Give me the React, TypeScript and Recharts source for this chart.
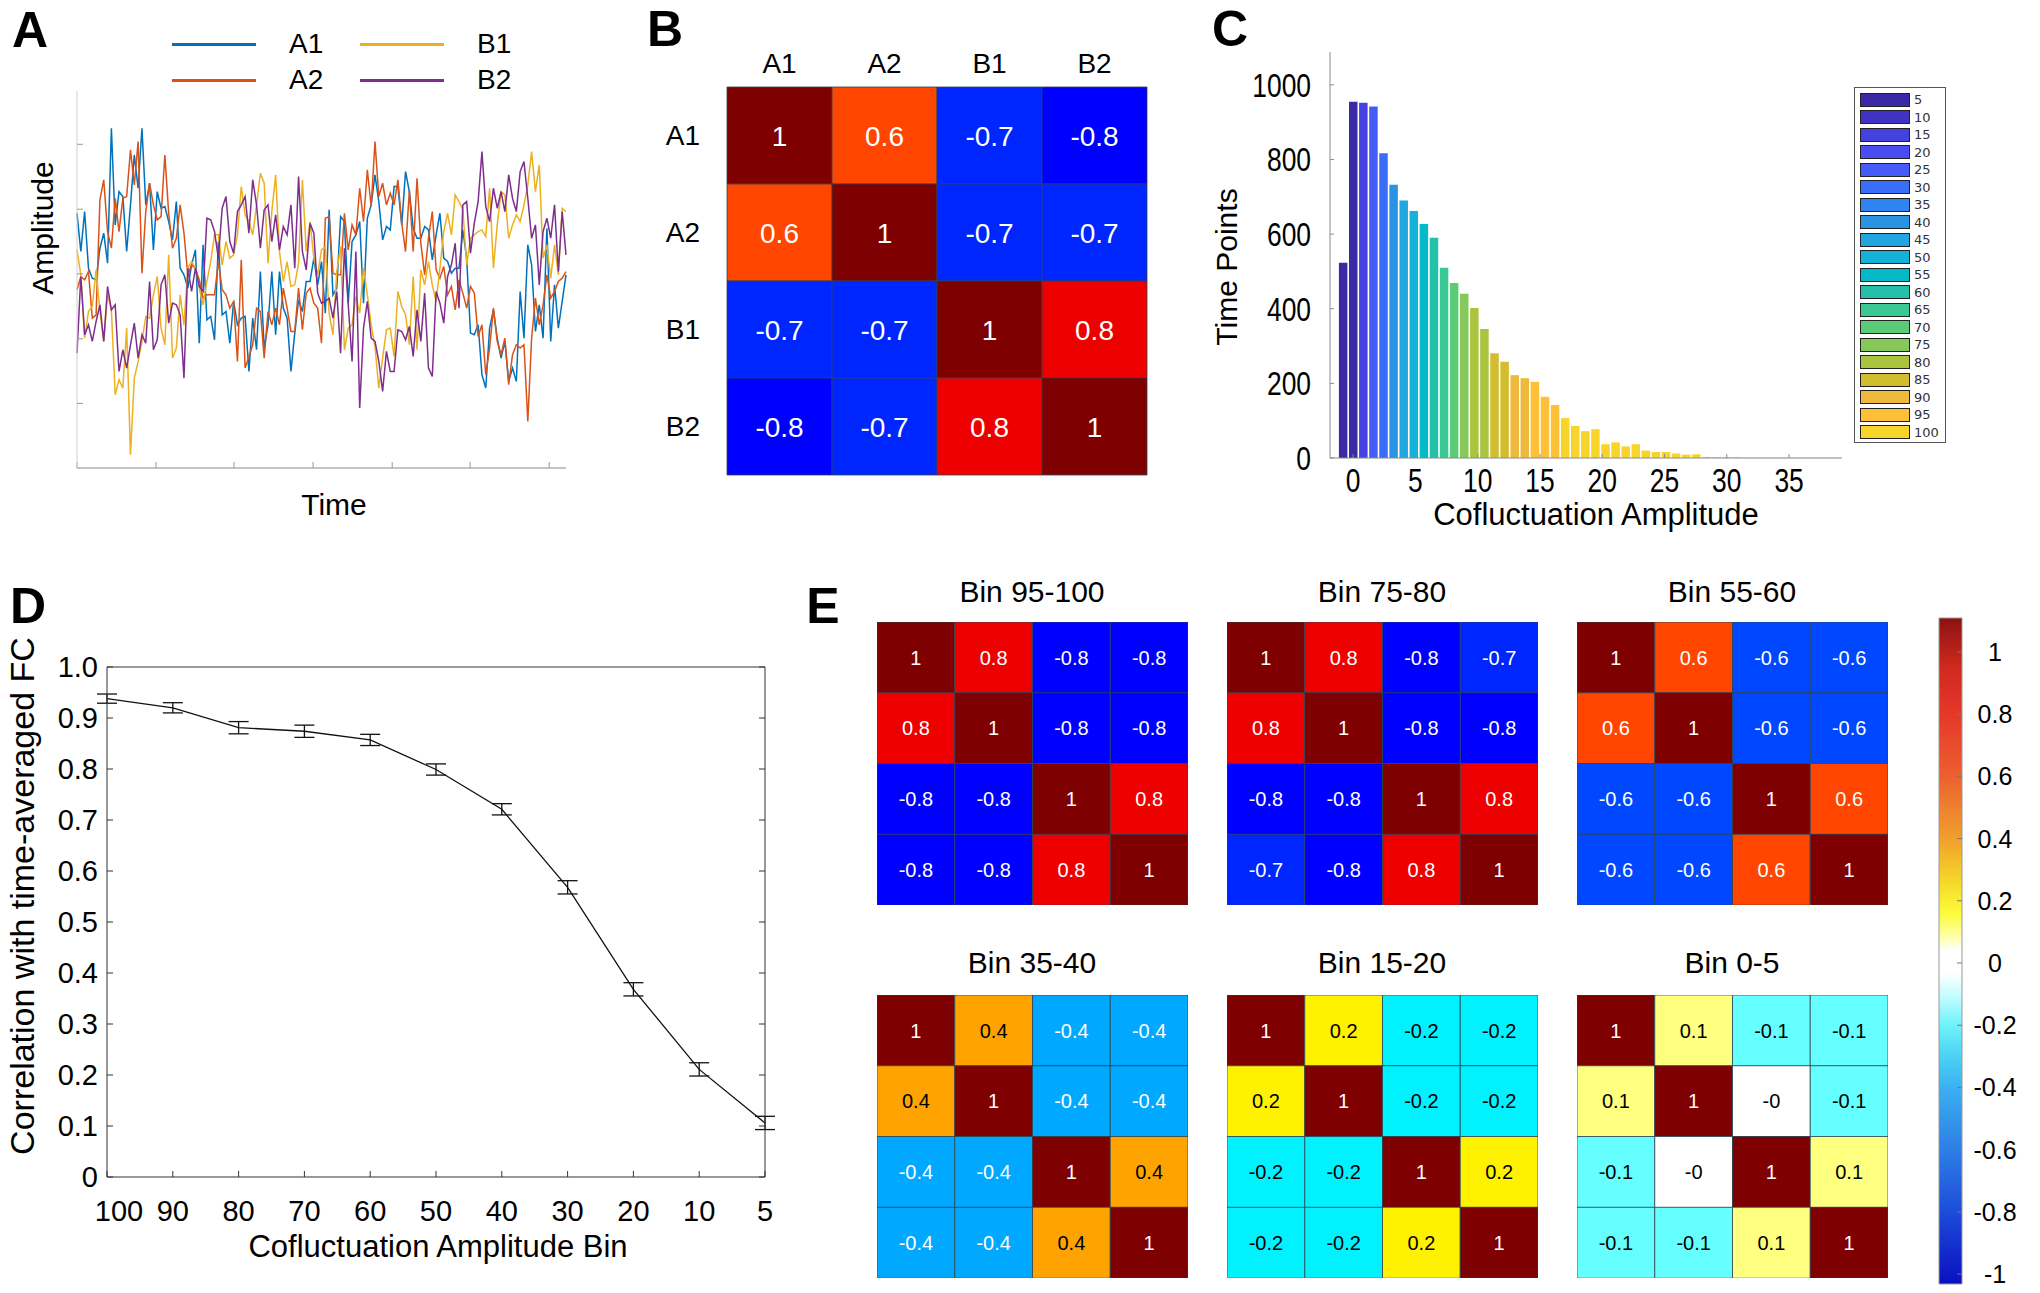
import React from 'react';
import {
  LineChart,
  Line,
  BarChart,
  Bar,
  Cell,
  LabelList,
  XAxis,
  YAxis,
  ErrorBar,
  Legend,
} from 'recharts';

const FONT = '"Liberation Sans", Arial, Helvetica, sans-serif';

// ---------- A: example regional time series (arbitrary amplitude units) ----------
const a1Values = [
  76.5, 65, 77, 60, 57, 56.5, 66, 70.5, 61.5, 102, 73, 83, 81.5, 65, 79, 94, 84, 102, 79, 85.5, 65.5, 83, 78, 78.5,
  74, 68.5, 80, 60, 58, 54, 61, 65.5, 37.5, 67, 44.5, 45.5, 38.5, 68, 46, 47, 37.5, 50, 43, 45, 45.5, 29, 45, 35.5,
  59, 36, 43, 59, 40, 59, 48, 45, 29, 40.5, 50.5, 47, 56, 56, 63, 55, 62, 46.5, 77.5, 52, 54, 75.5, 74, 49.5, 68, 70,
  74, 49.5, 75, 79, 88, 80, 68.5, 72.5, 71.5, 84.5, 84.5, 73, 89, 83, 72, 69, 69, 72.5, 71.5, 62.5, 70, 76.5, 63, 62,
  58.5, 60, 60, 71.5, 63, 40.5, 40, 43, 28, 24, 42, 47.5, 39, 33, 38, 26, 30, 26, 53, 39, 67, 61, 41, 49, 39, 72, 38,
  55, 42, 50, 58,
];
const a2Values = [
  53.5, 57.5, 56.5, 59, 45, 46, 80.5, 86.5, 71, 66, 81, 71, 81, 81.5, 95.5, 85, 98, 58.5, 77, 85.5, 79, 74.5, 75.5, 94,
  76.5, 66, 69, 79, 70.5, 58, 61, 60, 56.5, 51, 52, 52, 52, 62, 53.5, 52, 48, 50, 32, 62.5, 30, 33.5, 37, 48, 47, 33,
  47, 43, 48, 43, 54, 48, 41, 41, 54, 41.5, 52.5, 54, 49.5, 48, 37.5, 75, 75.5, 58.5, 58, 58, 76.5, 65.5, 73, 70, 84,
  74, 89.5, 78.5, 98, 81.5, 85.5, 79, 82.5, 79, 86.5, 73.5, 65, 83.5, 65, 87, 67.5, 58, 69, 77, 59.5, 57, 60.5, 52,
  54.5, 47.5, 56.5, 52.5, 48, 54.5, 52.5, 39.5, 43, 28, 36, 48, 38, 34, 39, 25, 34, 37, 36, 37, 14, 39, 51, 43, 49,
  58, 51, 53, 56, 57, 59,
];
const b1Values = [
  65.5, 58, 39, 47, 48.5, 59.5, 47, 38, 52, 47.5, 22, 26.5, 24, 42, 4, 27, 32, 38, 45.5, 45, 52, 57.5, 42, 37, 64, 33,
  36, 52, 43, 60, 62, 60, 54, 49, 56, 62, 70, 70, 61, 68, 63, 64, 70, 84.5, 76, 74, 70, 79, 88.5, 85.5, 61.5, 77, 88,
  65, 56, 62, 54.5, 55, 61.5, 86.5, 65, 74, 63, 58, 65.5, 66.5, 46.5, 40, 59, 66.5, 35.5, 42, 43, 51.5, 46.5, 60, 52,
  43, 36.5, 24, 33, 41.5, 42, 33.5, 53, 48.5, 46, 37, 57.5, 35.5, 59.5, 55, 62, 55, 50, 60, 71, 76.5, 70, 82, 80, 77.5,
  61, 69, 70, 71, 71.5, 69.5, 84, 60, 73, 83, 82, 69, 73, 76, 74, 79, 85, 95, 83, 91, 63, 67, 57, 67, 58, 78, 77,
];
const b2Values = [
  34.5, 57.5, 40, 43, 38, 44, 49, 38, 54.5, 47.5, 49, 29, 35.5, 30, 37, 43.5, 33, 40, 37.5, 56, 35.5, 38.5, 55, 58,
  43.5, 49.5, 49, 46, 27, 60, 53, 60, 54.5, 53, 75, 74.5, 71, 63, 78, 81.5, 68, 64.5, 77, 79, 81.5, 70.5, 86.5, 79, 66,
  77.5, 79, 68, 76, 65.5, 72.5, 70, 79, 60, 87.5, 65, 59.5, 73.5, 70.5, 52.5, 49.5, 50, 51, 45, 53, 34.5, 66, 49, 32,
  65, 18, 42, 50, 39, 38, 32, 23, 35, 29, 29, 41.5, 41, 38.5, 42.5, 33.5, 47.5, 38, 52.5, 30, 27.5, 53, 49.5, 43.5,
  57.5, 61, 67.5, 48, 79, 80, 64.5, 73.5, 80, 95, 78.5, 74, 84, 78, 83, 77, 88, 81, 77, 89, 92, 81, 69, 73, 55, 71, 75,
  69, 79, 59, 77, 64,
];
const seriesNames = ['A1', 'A2', 'B1', 'B2'];
const seriesColors: Record<string, string> = { A1: '#0072BD', A2: '#D95319', B1: '#EDB120', B2: '#7E2F8E' };
const timeTicks = [0, 20.7, 41.1, 61.8, 82.5, 102.9, 123.6];
const ampTicks = [19.4, 38.8, 58.3, 77.7, 97.2];

// ---------- B: time-averaged FC ----------
const nodeNames = ['A1', 'A2', 'B1', 'B2'];
const fcMatrix = [
  [1, 0.6, -0.7, -0.8],
  [0.6, 1, -0.7, -0.7],
  [-0.7, -0.7, 1, 0.8],
  [-0.8, -0.7, 0.8, 1],
];

// ---------- C: histogram of cofluctuation amplitude ----------
const ampBins = [
  -0.81, 0, 0.81, 1.62, 2.43, 3.24, 4.05, 4.86, 5.67, 6.48, 7.29, 8.1, 8.91, 9.72, 10.53, 11.34, 12.15, 12.96, 13.77,
  14.58, 15.39, 16.2, 17.01, 17.82, 18.63, 19.44, 20.25, 21.06, 21.87, 22.68, 23.49, 24.3, 25.11, 25.92, 26.73, 27.54,
  28.35, 29.16, 29.97, 30.78, 31.59, 32.4, 33.21, 34.02, 34.83, 35.64, 36.45, 37.26, 38.07, 38.88,
];
const timePoints = [
  523, 955, 952, 942, 817, 732, 690, 662, 627, 590, 510, 469, 440, 402, 346, 281, 258, 222, 214, 204, 164, 142, 107, 86,
  72, 77, 37, 42, 31, 37, 20, 16, 16, 12, 9, 10, 3, 2, 2, 2, 1, 1, 1, 1, 1, 1, 1, 1, 1, 1,
];
const pointBins = [
  '5', '5', '15', '25', '30', '40', '45', '50', '55', '60', '65', '70', '75', '80', '80', '85', '85', '90', '90', '95',
  '95', '95', '100', '100', '100', '100', '100', '100', '100', '100', '100', '100', '100', '100', '100', '100', '100',
  '100', '100', '100', '100', '100', '100', '100', '100', '100', '100', '100', '100', '100',
];
const legendBins = ['5', '10', '15', '20', '25', '30', '35', '40', '45', '50', '55', '60', '65', '70', '75', '80', '85', '90', '95', '100'];
const binColors: Record<string, string> = {
  '5': '#3a2aa6', '10': '#4033c3', '15': '#4540e0', '20': '#4a4ef2', '25': '#465cf8',
  '30': '#3b6ef8', '35': '#2f84f1', '40': '#2a94e4', '45': '#22a6df', '50': '#14b2d6',
  '55': '#04bac6', '60': '#24c0ac', '65': '#3ac995', '70': '#5acc78', '75': '#86c85a',
  '80': '#aac43e', '85': '#d2bd2e', '90': '#eeb93c', '95': '#fdc036', '100': '#f8d52a',
};
const countTicks = [0, 200, 400, 600, 800, 1000];
const ampAxisTicks = [0, 5, 10, 15, 20, 25, 30, 35];

// ---------- D: similarity to time-averaged FC ----------
const binLabels = ['100', '90', '80', '70', '60', '50', '40', '30', '20', '10', '5'];
const corrValues = [0.938, 0.92, 0.881, 0.874, 0.857, 0.799, 0.721, 0.568, 0.368, 0.211, 0.106];
const corrErrors = [0.009, 0.01, 0.012, 0.012, 0.011, 0.011, 0.011, 0.013, 0.013, 0.013, 0.013];
const corrTicks = [0, 0.1, 0.2, 0.3, 0.4, 0.5, 0.6, 0.7, 0.8, 0.9, 1];

// ---------- E: FC per amplitude bin ----------
const binTitles = ['Bin 95-100', 'Bin 75-80', 'Bin 55-60', 'Bin 35-40', 'Bin 15-20', 'Bin 0-5'];
const fcBin95 = [[1, 0.8, -0.8, -0.8], [0.8, 1, -0.8, -0.8], [-0.8, -0.8, 1, 0.8], [-0.8, -0.8, 0.8, 1]];
const fcBin75 = [[1, 0.8, -0.8, -0.7], [0.8, 1, -0.8, -0.8], [-0.8, -0.8, 1, 0.8], [-0.7, -0.8, 0.8, 1]];
const fcBin55 = [[1, 0.6, -0.6, -0.6], [0.6, 1, -0.6, -0.6], [-0.6, -0.6, 1, 0.6], [-0.6, -0.6, 0.6, 1]];
const fcBin35 = [[1, 0.4, -0.4, -0.4], [0.4, 1, -0.4, -0.4], [-0.4, -0.4, 1, 0.4], [-0.4, -0.4, 0.4, 1]];
const fcBin15 = [[1, 0.2, -0.2, -0.2], [0.2, 1, -0.2, -0.2], [-0.2, -0.2, 1, 0.2], [-0.2, -0.2, 0.2, 1]];
const fcBin0 = [[1, 0.1, -0.1, -0.1], [0.1, 1, -0, -0.1], [-0.1, -0, 1, 0.1], [-0.1, -0.1, 0.1, 1]];
const binMatrices = [fcBin95, fcBin75, fcBin55, fcBin35, fcBin15, fcBin0];
const cbarTicks = [-1, -0.8, -0.6, -0.4, -0.2, 0, 0.2, 0.4, 0.6, 0.8, 1];
const cbarMin = -1.032;
const cbarMax = 1.109;

// colours used for the correlation cells
const cellColors: Record<string, string> = {
  '1': '#7f0000', '0.8': '#ee0000', '0.6': '#ff4500', '0.4': '#ffa300', '0.2': '#fff200',
  '0.1': '#ffff80', '0': '#ffffff', '-0.1': '#66ffff', '-0.2': '#00f2ff', '-0.4': '#00a8ff',
  '-0.6': '#0048ff', '-0.7': '#0026ff', '-0.8': '#0000ff',
};
const cbarStops: [number, string][] = [
  [1.109, '#8c1212'], [0.95, '#cf2a1e'], [0.8, '#e5382a'], [0.6, '#ec6030'], [0.4, '#f0a02c'],
  [0.25, '#f6dc2a'], [0.16, '#fdfb3a'], [0.08, '#ffffb0'], [0.04, '#ffffff'], [-0.03, '#ffffff'],
  [-0.1, '#c8fdff'], [-0.2, '#70f2fa'], [-0.3, '#4cd2f4'], [-0.4, '#3cb0f0'], [-0.6, '#2d7fe6'],
  [-0.8, '#1d4cd9'], [-1.032, '#0a10c0'],
];

const Txt = ({ x, y, size, children, rotate = 0, bold = false, sx = 1 }: any) => (
  <div
    style={{
      position: 'absolute',
      left: x,
      top: y,
      fontSize: size,
      fontWeight: bold ? 'bold' : 'normal',
      lineHeight: 1,
      whiteSpace: 'nowrap',
      transform: `translate(-50%, -50%) rotate(${rotate}deg) scaleX(${sx})`,
    }}
  >
    {children}
  </div>
);

const renderSeriesLegend = () => (
  <div style={{ position: 'relative', width: 600, height: 110 }}>
    {seriesNames.map((name, i) => {
      const col = i < 2 ? 0 : 1;
      const row = i % 2;
      const lineLeft = col === 0 ? 172 : 360;
      const textLeft = col === 0 ? 289 : 477;
      const y = row === 0 ? 44 : 80;
      return (
        <React.Fragment key={name}>
          <div style={{ position: 'absolute', left: lineLeft, top: y - 1.5, width: 84, height: 3, background: seriesColors[name] }} />
          <div style={{ position: 'absolute', left: textLeft, top: y - 14, fontSize: 28, lineHeight: 1 }}>{name}</div>
        </React.Fragment>
      );
    })}
  </div>
);

const renderBinLegend = () => (
  <div
    style={{
      width: 92,
      height: 356,
      boxSizing: 'border-box',
      border: '1.5px solid #555',
      background: '#fff',
      padding: '3px 0 0 5px',
      fontFamily: '"DejaVu Sans", sans-serif',
    }}
  >
    {legendBins.map((b) => (
      <div key={b} style={{ display: 'flex', alignItems: 'center', height: 17.5 }}>
        <div style={{ width: 48, height: 12, background: binColors[b], border: '1px solid #222' }} />
        <span style={{ fontSize: 13, color: '#333', marginLeft: 4 }}>{b}</span>
      </div>
    ))}
  </div>
);

const CountTick = (props: any) => (
  <text transform={`translate(${props.x},${props.y}) scale(0.8,1)`} textAnchor="end" dy="0.36em" fontSize={33} fill="#000">
    {props.payload.value}
  </text>
);
const AmpTick = (props: any) => (
  <text transform={`translate(${props.x},${props.y}) scale(0.8,1)`} textAnchor="middle" dy="0.72em" fontSize={33} fill="#000">
    {props.payload.value}
  </text>
);
// the first bin label sits a little inside the frame in the original figure
const BinTick = (props: any) => (
  <text x={props.x + (props.payload.value === '100' ? 12 : 0)} y={props.y} dy="0.72em" textAnchor="middle" fontSize={29} fill="#000">
    {props.payload.value}
  </text>
);
const CbarTick = (props: any) => (
  <text x={95} y={props.y} dy="0.36em" textAnchor="middle" fontSize={25} fill="#000">
    {props.payload.value}
  </text>
);

const cellLabel = (fontSize: number) => (props: any) => {
  const vb = props.viewBox ?? props;
  const v = props.value as number;
  const text = Object.is(v, -0) ? '-0' : String(v);
  const dark = v >= -0.2 && v <= 0.4;
  return (
    <text x={vb.x + vb.width / 2} y={vb.y + vb.height / 2} dy="0.36em" textAnchor="middle" fontSize={fontSize} fill={dark ? '#000' : '#fff'}>
      {text}
    </text>
  );
};

const Heatmap = ({ matrix, width, height, fontSize, labels, margin }: any) => {
  const rows = matrix.map((vals: number[], r: number) => {
    const row: Record<string, any> = { name: labels ? labels[r] : `r${r}` };
    vals.forEach((v, c) => {
      row[`s${c}`] = 1;
      row[`v${c}`] = v;
    });
    return row;
  });
  return (
    <BarChart layout="vertical" width={width} height={height} data={rows} margin={margin} barCategoryGap={0}>
      <XAxis
        type="number"
        domain={[0, 4]}
        ticks={[0.5, 1.5, 2.5, 3.5]}
        orientation="top"
        hide={!labels}
        height={40}
        axisLine={false}
        tickLine={false}
        tickSize={0}
        tickMargin={14}
        tickFormatter={(v: number) => (labels ? labels[Math.floor(v)] : '')}
        tick={{ fontSize: 28, fill: '#000' }}
      />
      <YAxis
        type="category"
        dataKey="name"
        hide={!labels}
        width={60}
        axisLine={false}
        tickLine={false}
        tickSize={0}
        tickMargin={27}
        tick={{ fontSize: 28, fill: '#000' }}
      />
      {[0, 1, 2, 3].map((c) => (
        <Bar key={c} dataKey={`s${c}`} stackId="m" isAnimationActive={false}>
          {rows.map((_: any, r: number) => (
            <Cell key={r} fill={cellColors[String(matrix[r][c])]} stroke="#2c4450" strokeWidth={0.8} />
          ))}
          <LabelList dataKey={`v${c}`} content={cellLabel(fontSize)} />
        </Bar>
      ))}
    </BarChart>
  );
};

const heatmapSpots = [
  [877, 622], [1227, 622], [1577, 622],
  [877, 995], [1227, 995], [1577, 995],
];

export default function App() {
  const seriesRows = a1Values.map((v, i) => ({ t: i, A1: v, A2: a2Values[i], B1: b1Values[i], B2: b2Values[i] }));
  const histRows = ampBins.map((a, i) => ({ amp: a, count: timePoints[i], bin: pointBins[i] }));
  const corrRows = binLabels.map((b, i) => ({ bin: b, corr: corrValues[i], err: corrErrors[i] }));
  const cbarRows = [{ name: 'scale', span: [cbarMin, cbarMax] }];

  return (
    <div style={{ position: 'absolute', left: 0, top: 0, width: 2040, height: 1293, background: '#fff', fontFamily: FONT, color: '#000', overflow: 'hidden' }}>
      {/* A */}
      <div style={{ position: 'absolute', left: 0, top: 0 }}>
        <LineChart width={600} height={480} data={seriesRows} margin={{ top: 91, right: 34, bottom: 2, left: 67 }}>
          <XAxis dataKey="t" type="number" domain={[0, 128]} ticks={timeTicks} height={10} tickSize={-6} tickFormatter={() => ''} axisLine={{ stroke: '#b0b0b0', strokeWidth: 1.5 }} tickLine={{ stroke: '#999' }} />
          <YAxis type="number" domain={[0, 113.2]} ticks={ampTicks} width={10} tickSize={-6} tickFormatter={() => ''} axisLine={{ stroke: '#cfcfcf' }} tickLine={{ stroke: '#999' }} />
          <Legend layout="vertical" align="center" verticalAlign="middle" wrapperStyle={{ left: 0, top: 0, width: 600, height: 110 }} content={renderSeriesLegend} />
          {seriesNames.map((n) => (
            <Line key={n} dataKey={n} type="linear" stroke={seriesColors[n]} strokeWidth={1.5} dot={false} activeDot={false} isAnimationActive={false} />
          ))}
        </LineChart>
      </div>

      {/* B */}
      <div style={{ position: 'absolute', left: 640, top: 30 }}>
        <Heatmap matrix={fcMatrix} width={520} height={460} fontSize={28} labels={nodeNames} margin={{ top: 17, right: 13, bottom: 15, left: 27 }} />
      </div>

      {/* C */}
      <div style={{ position: 'absolute', left: 1200, top: 0 }}>
        <BarChart width={660} height={540} data={histRows} margin={{ top: 52, right: 18, bottom: 32, left: 50 }}>
          <XAxis dataKey="amp" type="number" domain={[-1.85, 39.25]} ticks={ampAxisTicks} allowDataOverflow height={50} tickSize={-4} tickMargin={14} tick={AmpTick} axisLine={{ stroke: '#8a8a8a' }} tickLine={{ stroke: '#8a8a8a' }} />
          <YAxis type="number" domain={[0, 1088]} ticks={countTicks} width={80} tickSize={-4} tickMargin={23} tick={CountTick} axisLine={{ stroke: '#8a8a8a' }} tickLine={{ stroke: '#8a8a8a' }} />
          <Legend layout="vertical" align="center" verticalAlign="middle" wrapperStyle={{ left: 654, top: 87, width: 92, height: 356 }} content={renderBinLegend} />
          <Bar dataKey="count" barSize={8.5} isAnimationActive={false}>
            {histRows.map((r, i) => (
              <Cell key={i} fill={binColors[r.bin]} />
            ))}
          </Bar>
        </BarChart>
      </div>

      {/* D */}
      <div style={{ position: 'absolute', left: 0, top: 600 }}>
        <LineChart width={800} height={660} data={corrRows} margin={{ top: 57, right: 25, bottom: 23, left: 37 }}>
          <XAxis dataKey="bin" height={60} tickSize={-6} tickMargin={29} axisLine={{ stroke: '#333' }} tickLine={{ stroke: '#333' }} tick={BinTick} interval={0} />
          <XAxis xAxisId="top" dataKey="bin" orientation="top" height={10} tick={false} tickLine={false} axisLine={{ stroke: '#333' }} />
          <YAxis type="number" domain={[0, 1]} ticks={corrTicks} width={70} tickSize={-6} tickMargin={15} axisLine={{ stroke: '#333' }} tickLine={{ stroke: '#333' }} tick={{ fontSize: 29, fill: '#000' }} tickFormatter={(v: number) => (v === 1 ? '1.0' : v === 0 ? '0' : v.toFixed(1))} />
          <YAxis yAxisId="r" orientation="right" type="number" domain={[0, 1]} ticks={corrTicks} width={10} tickSize={-6} tickFormatter={() => ''} axisLine={{ stroke: '#333' }} tickLine={{ stroke: '#333' }} />
          <Line xAxisId="top" yAxisId="r" dataKey="corr" stroke="none" dot={false} activeDot={false} isAnimationActive={false} />
          <Line dataKey="corr" type="linear" stroke="#111" strokeWidth={1.3} dot={false} activeDot={false} isAnimationActive={false}>
            <ErrorBar dataKey="err" width={10} stroke="#111" strokeWidth={1.3} direction="y" />
          </Line>
        </LineChart>
      </div>

      {/* E */}
      {binMatrices.map((m, i) => (
        <div key={i} style={{ position: 'absolute', left: heatmapSpots[i][0], top: heatmapSpots[i][1] }}>
          <Heatmap matrix={m} width={311} height={283} fontSize={20} margin={{ top: 0, right: 0, bottom: 0, left: 0 }} />
        </div>
      ))}
      <div style={{ position: 'absolute', left: 1900, top: 600 }}>
        <BarChart width={140} height={700} data={cbarRows} margin={{ top: 18, right: 18, bottom: 16, left: 39 }} barCategoryGap={0}>
          <defs>
            <linearGradient id="cbarGrad" x1="0" y1="0" x2="0" y2="1">
              {cbarStops.map(([v, col], i) => (
                <stop key={i} offset={(cbarMax - v) / (cbarMax - cbarMin)} stopColor={col} />
              ))}
            </linearGradient>
          </defs>
          <XAxis dataKey="name" hide />
          <YAxis orientation="right" type="number" domain={[cbarMin, cbarMax]} ticks={cbarTicks} width={60} axisLine={false} tickSize={-5} tickLine={{ stroke: '#777' }} tick={CbarTick} />
          <Bar dataKey="span" fill="url(#cbarGrad)" stroke="#9a9a9a" strokeWidth={1} isAnimationActive={false} />
        </BarChart>
      </div>

      {/* panel letters and titles */}
      <Txt x={30} y={30} size={50} bold>A</Txt>
      <Txt x={665} y={29} size={50} bold>B</Txt>
      <Txt x={1230} y={29} size={50} bold>C</Txt>
      <Txt x={28} y={606} size={50} bold>D</Txt>
      <Txt x={823} y={606} size={50} bold>E</Txt>

      <Txt x={43} y={228} size={30} rotate={-90}>Amplitude</Txt>
      <Txt x={334} y={505} size={30}>Time</Txt>

      <Txt x={1227} y={267} size={30} rotate={-90}>Time Points</Txt>
      <Txt x={1596} y={514} size={31}>Cofluctuation Amplitude</Txt>

      <Txt x={22} y={896} size={34} rotate={-90}>Correlation with time-averaged FC</Txt>
      <Txt x={438} y={1246} size={31}>Cofluctuation Amplitude Bin</Txt>

      {binTitles.map((t, i) => (
        <Txt key={t} x={heatmapSpots[i][0] + 155} y={i < 3 ? 592 : 963} size={30}>{t}</Txt>
      ))}
    </div>
  );
}
